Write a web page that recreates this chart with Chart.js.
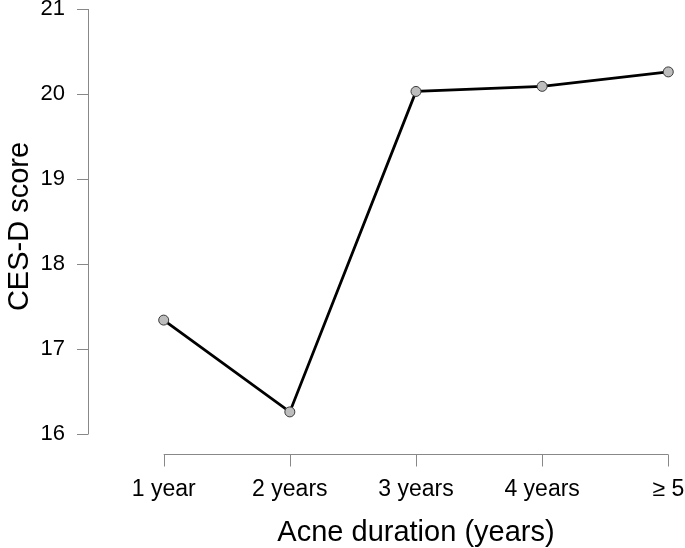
<!DOCTYPE html>
<html>
<head>
<meta charset="utf-8">
<script src="https://cdn.jsdelivr.net/npm/chart.js@4/dist/chart.umd.min.js"></script>
<style>
html,body{margin:0;padding:0;background:#fff;}
#wrap{width:685px;height:548px;position:relative;}
</style>
</head>
<body>
<div id="wrap"><canvas id="c" width="685" height="548"></canvas></div>
<script>
const categories = ['1 year', '2 years', '3 years', '4 years', '\u2265 5'];
const cesdScores = [17.34, 16.26, 20.03, 20.09, 20.26];
const yTickValues = [16, 17, 18, 19, 20, 21];
const xTitle = 'Acne duration (years)';
const yTitle = 'CES-D score';

const AXIS_COLOR = '#888888';
const FONT = 'Liberation Sans, Arial, sans-serif';

function zeroPad(s) {
  s.paddingLeft = 0; s.paddingRight = 0; s.paddingTop = 0; s.paddingBottom = 0;
}

const rAxes = {
  id: 'rAxes',
  afterDraw(chart) {
    const ctx = chart.ctx;
    const xs = chart.scales.x, ys = chart.scales.y;
    const left = chart.chartArea.left;
    const yTop = ys.getPixelForValue(yTickValues[yTickValues.length - 1]);
    const yBot = ys.getPixelForValue(yTickValues[0]);
    ctx.save();
    ctx.strokeStyle = AXIS_COLOR;
    ctx.lineWidth = 1;
    ctx.beginPath();
    ctx.moveTo(left + 0.5, yTop);
    ctx.lineTo(left + 0.5, yBot);
    yTickValues.forEach(v => {
      const p = Math.round(ys.getPixelForValue(v)) + 0.5;
      ctx.moveTo(left + 0.5, p);
      ctx.lineTo(left - 11, p);
    });
    const axY = Math.round(yBot + 20) + 0.5;
    const x0 = xs.getPixelForValue(0), x1 = xs.getPixelForValue(categories.length - 1);
    ctx.moveTo(x0, axY);
    ctx.lineTo(x1, axY);
    categories.forEach((c, i) => {
      const p = Math.round(xs.getPixelForValue(i)) + 0.5;
      ctx.moveTo(p, axY);
      ctx.lineTo(p, axY + 12);
    });
    ctx.stroke();

    // axis titles (R-style: x title centred under the x axis line)
    ctx.fillStyle = '#000';
    ctx.font = '29px ' + FONT;
    ctx.textAlign = 'center';
    ctx.textBaseline = 'alphabetic';
    ctx.fillText(xTitle, (x0 + x1) / 2, yBot + 106.5);
    ctx.save();
    ctx.translate(28, (yTop + yBot) / 2 + 5);
    ctx.rotate(-Math.PI / 2);
    ctx.fillText(yTitle, 0, 0);
    ctx.restore();
    ctx.restore();
  }
};

new Chart(document.getElementById('c'), {
  type: 'line',
  data: {
    datasets: [{
      data: cesdScores.map((v, i) => ({x: i, y: v})),
      borderColor: '#000000',
      borderWidth: 2.8,
      pointRadius: 5,
      pointBackgroundColor: '#bdbdbd',
      pointBorderColor: '#3a3a3a',
      pointBorderWidth: 1,
      tension: 0
    }]
  },
  options: {
    responsive: false,
    animation: false,
    events: [],
    layout: {padding: {top: 9, right: 6, left: 0, bottom: 0}},
    plugins: {legend: {display: false}, tooltip: {enabled: false}},
    scales: {
      x: {
        type: 'linear',
        min: -0.6,
        max: 4.085,
        grid: {display: false, drawTicks: true, tickLength: 20},
        border: {display: false},
        afterBuildTicks(s) { s.ticks = categories.map((c, i) => ({value: i})); },
        afterFit(s) { s.height = 114; zeroPad(s); },
        ticks: {
          padding: 22,
          color: '#000',
          font: {family: FONT, size: 23},
          maxRotation: 0,
          autoSkip: false,
          callback: (v) => categories[v]
        },
        title: {display: false}
      },
      y: {
        type: 'linear',
        min: 16,
        max: 21,
        grid: {display: false, drawTicks: true, tickLength: 11},
        border: {display: false},
        afterBuildTicks(s) { s.ticks = yTickValues.map(v => ({value: v})); },
        afterFit(s) { s.width = 88; zeroPad(s); },
        ticks: {
          padding: 12,
          color: '#000',
          font: {family: FONT, size: 22}
        },
        title: {display: false}
      }
    }
  },
  plugins: [rAxes]
});
</script>
</body>
</html>
